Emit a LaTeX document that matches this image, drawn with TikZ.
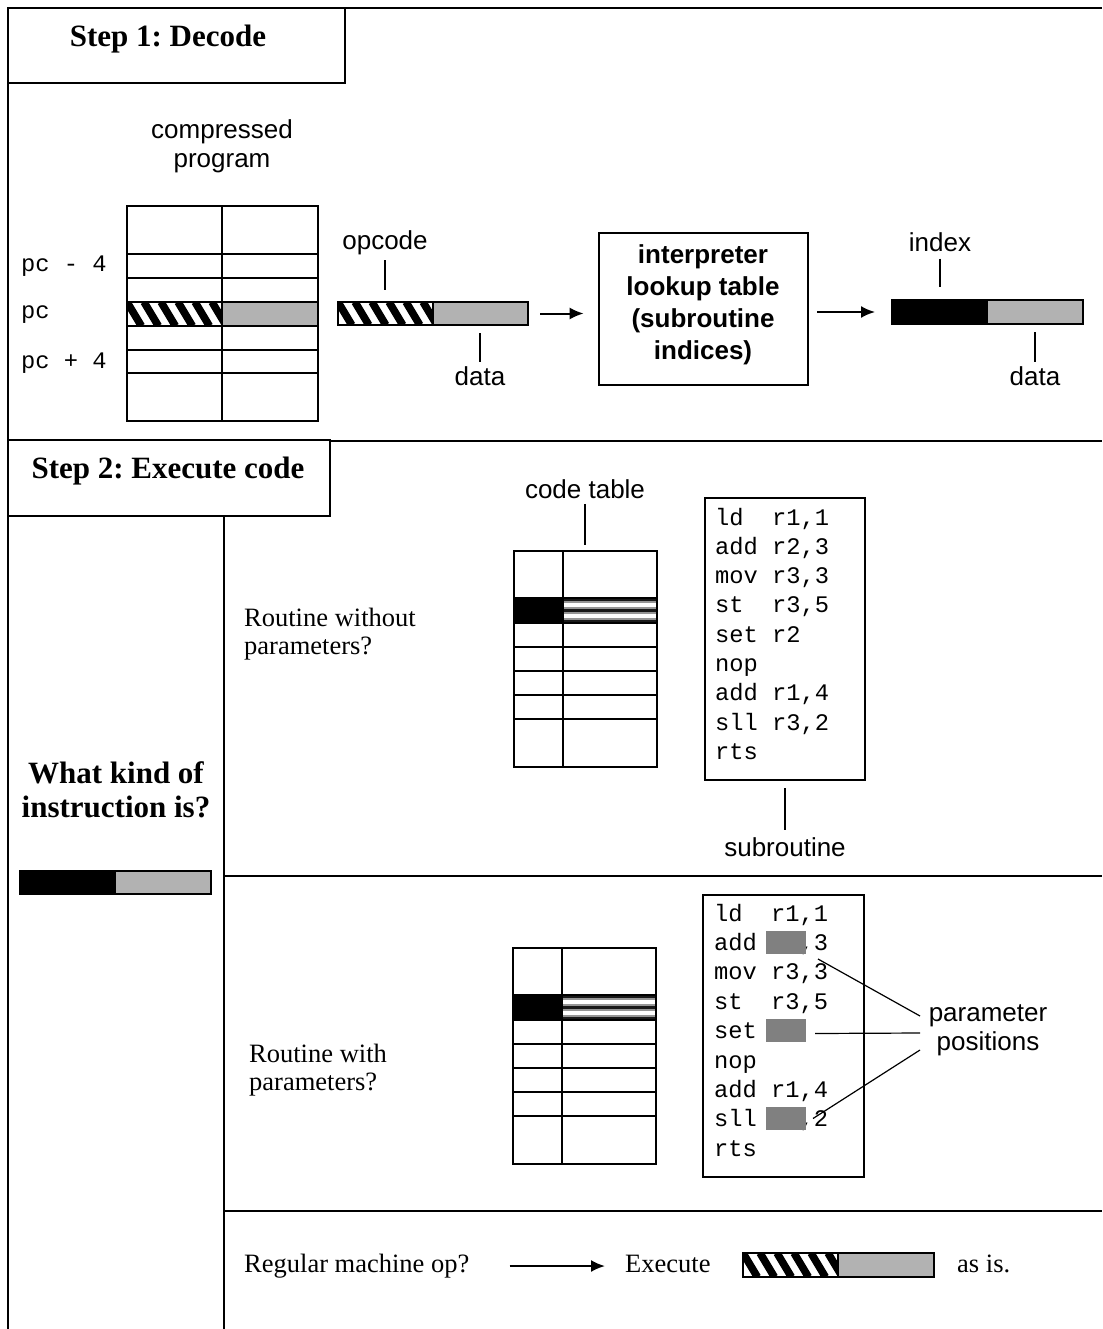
\documentclass[tikz,border=0pt]{standalone}
\usepackage{fontspec}
\setmainfont{Liberation Serif}
\setsansfont{Liberation Sans}
\setmonofont{Liberation Mono}
\usetikzlibrary{arrows.meta,calc}
\frenchspacing

\definecolor{datagray}{RGB}{178,178,178}
\definecolor{paramgray}{RGB}{128,128,128}
\definecolor{stripegray}{RGB}{150,150,150}
\definecolor{stripedark}{RGB}{25,25,25}

% diagonal black/white hatching inside a rectangle: x, y, width, height
\newcommand\hatchfill[4]{%
  \begin{scope}
    \clip (#1,#2) rectangle ++(#3,#4);
    \foreach \t in {-34,-17,...,#3}
      \draw[line width=7.6pt] ($(#1,#2)+(\t,0)$) -- ++(0.6*#4,#4);
  \end{scope}}

% horizontally striped cell of a code table row: x, y, width
\newcommand\stripecell[3]{%
  \fill[white] (#1,#2) rectangle ++(#3,25);
  \foreach \a/\b/\c in {0/2.9/stripedark, 2.9/2.1/stripegray, 9.3/1.4/stripegray,
      10.7/3.2/stripedark, 13.9/1.8/stripegray, 20.4/1.8/stripegray, 22.2/2.8/stripedark}
    \fill[\c] ($(#1,#2)+(0,\a)$) rectangle ++(#3,\b);}

% code table with a selected entry: name, x, y (top left)
\newcommand\codetable[3]{%
  \fill ($(#2,#3)+(0,47)$) rectangle ++(49,25);
  \stripecell{#2+49}{#3+47}{94}
  \foreach \r in {47,72,96,120,144,168}
    \draw[grid] ($(#2,#3)+(0,\r)$) -- ++(143,0);
  \draw[grid] ($(#2,#3)+(49,0)$) -- ++(0,216);
  \node[slot, draw, grid, minimum width=143pt, minimum height=216pt] (#1) at (#2,#3) {};}

\begin{document}
\begin{tikzpicture}[x=1pt,y=-1pt,
  frame/.style={line width=2.6pt},
  rule/.style={line width=1.4pt},
  grid/.style={line width=1.2pt},
  tick/.style={line width=1.2pt},
  arrowline/.style={line width=2pt,-{Latex[length=14pt,width=12pt]}},
  slot/.style={inner sep=0pt, outer sep=0pt, anchor=north west},
  sanslbl/.style={inner sep=0pt, font=\sffamily\fontsize{26}{29}\selectfont},
  boldsans/.style={inner sep=0pt, font=\sffamily\bfseries\fontsize{26}{32}\selectfont},
  seriflbl/.style={inner sep=0pt, anchor=west, font=\fontsize{26.5}{28}\selectfont},
  titlelbl/.style={inner sep=0pt, font=\bfseries\fontsize{31}{34}\selectfont},
  monolbl/.style={inner sep=0pt, anchor=base west, font=\ttfamily\fontsize{23.75}{29}\selectfont},
]
\useasboundingbox (0,0) rectangle (1102,1329);

% ---------- frame ----------
\draw[frame] (8,1329) -- (8,8) -- (1102,8);
\draw[frame] (8,441) -- (1102,441);
\node[slot, draw, frame, fill=white, minimum width=337pt, minimum height=75pt] (step1box) at (8,8) {};
\node[titlelbl] (step1) at (168,39) {Step 1: Decode};
\node[slot, draw, frame, fill=white, minimum width=322pt, minimum height=76pt] (step2box) at (8,440) {};
\node[titlelbl] (step2) at (168,471) {Step 2: Execute code};
\draw[rule] (224,516) -- (224,1329);
\draw[rule] (224,876) -- (1102,876);
\draw[rule] (224,1211) -- (1102,1211);

% ---------- step 1: compressed program ----------
\node[sanslbl, align=center] (cplabel) at (222,146) {compressed\\program};
\fill[datagray] (222,302) rectangle (318,326);
\hatchfill{127}{302}{95}{24}
\foreach \r in {48,72,96,120,144,167}
  \draw[grid] (127,206+\r) -- (318,206+\r);
\draw[grid] (222,206) -- (222,421);
\node[slot, draw, grid, minimum width=191pt, minimum height=215pt] (cprog) at (127,206) {};
\node[monolbl] (pcm) at (21,272) {pc - 4};
\node[monolbl] (pc0) at (21,319) {pc};
\node[monolbl] (pcp) at (21,368) {pc + 4};

% opcode / data word
\fill[datagray] (433,302) rectangle (528,325);
\hatchfill{338}{302}{95}{23}
\draw[grid] (433,302) -- (433,325);
\node[slot, draw, grid, minimum width=190pt, minimum height=23pt] (opbar) at (338,302) {};
\node[sanslbl] (oplabel) at (385,243) {opcode};
\node[sanslbl] (dlabel1) at (480,376) {data};
\draw[tick, shorten <=5pt, shorten >=12pt] (oplabel.south) -- (oplabel.south |- opbar.north);
\draw[tick, shorten <=8pt, shorten >=4pt] (dlabel1.north |- opbar.south) -- (dlabel1.north);

% lookup table
\node[draw, line width=2.6pt, minimum width=209pt, minimum height=152pt, inner sep=0pt] (lookup) at (703.5,309) {};
\node[boldsans, align=center] (lookuptext) at (703,305) {interpreter\\lookup table\\(subroutine\\indices)};
\draw[arrowline, shorten <=12pt, shorten >=14pt] (opbar.east) -- (opbar.east -| lookup.west);

% index / data word
\fill (892,300) rectangle (988,324);
\fill[datagray] (988,300) rectangle (1083,324);
\node[slot, draw, grid, minimum width=191pt, minimum height=24pt] (idxbar) at (892,300) {};
\draw[arrowline, shorten <=8pt, shorten >=17pt] (lookup.east |- idxbar.west) -- (idxbar.west);
\node[sanslbl] (idxlabel) at (940,242) {index};
\node[sanslbl] (dlabel2) at (1035,376) {data};
\draw[tick, shorten <=7pt, shorten >=13pt] (idxlabel.south) -- (idxlabel.south |- idxbar.north);
\draw[tick, shorten <=8pt, shorten >=4pt] (dlabel2.north |- idxbar.south) -- (dlabel2.north);

% ---------- step 2: left column ----------
\node[titlelbl, align=center] (kind) at (116,790) {What kind of\\instruction is?};
\fill (20,871) rectangle (116,894);
\fill[datagray] (116,871) rectangle (211,894);
\node[slot, draw, grid, minimum width=191pt, minimum height=23pt] (lbar) at (20,871) {};

% ---------- routine without parameters ----------
\node[seriflbl, align=left] (rwo) at (244,634) {Routine without\\parameters?};
\codetable{ctab1}{514}{551}
\node[sanslbl] (ctlabel) at (585,489) {code table};
\draw[tick, shorten <=5pt, shorten >=6pt] (ctlabel.south) -- (ctlabel.south |- ctab1.north);
\node[slot, draw, grid, minimum width=160pt, minimum height=282pt] (sub1) at (705,498) {};
\foreach \ln [count=\i from 0] in {{ld~~r1,1},{add r2,3},{mov r3,3},{st~~r3,5},{set r2},{nop},{add r1,4},{sll r3,2},{rts}}
  \node[monolbl] (sub1l\i) at (715,525+29.33*\i) {\ln};
\node[sanslbl] (sublabel) at (785,847) {subroutine};
\draw[tick, shorten <=8pt, shorten >=7pt] (sub1.south) -- (sublabel.north);

% ---------- routine with parameters ----------
\node[seriflbl, align=left] (rwi) at (249,1070) {Routine with\\parameters?};
\codetable{ctab2}{513}{948}
\node[slot, draw, grid, minimum width=161pt, minimum height=282pt] (sub2) at (703,895) {};
\foreach \ln [count=\i from 0] in {{ld~~r1,1},{add \phantom{r2},3},{mov r3,3},{st~~r3,5},{set},{nop},{add r1,4},{sll \phantom{r3},2},{rts}}
  \node[monolbl] (sub2l\i) at (714,921+29.4*\i) {\ln};
\node[slot, fill=paramgray, minimum width=40pt, minimum height=23pt] (parA) at (766,931) {};
\node[slot, fill=paramgray, minimum width=40pt, minimum height=23pt] (parB) at (766,1019) {};
\node[slot, fill=paramgray, minimum width=40pt, minimum height=23pt] (parC) at (766,1107) {};
\node[sanslbl, align=center] (param) at (988,1030) {parameter\\positions};
\coordinate (pp1) at (920,1016);
\coordinate (pp2) at (920,1033);
\coordinate (pp3) at (920,1050);
\draw[tick] ($(parA.south east)+(12,5)$) -- (pp1);
\draw[tick] ($(parB.east)+(9,3)$) -- (pp2);
\draw[tick] ($(parC.east)+(7,0)$) -- (pp3);

% ---------- regular machine op ----------
\node[seriflbl] (regular) at (244,1266) {Regular machine op?};
\node[seriflbl] (execute) at (625,1264) {Execute};
\draw[arrowline, shorten <=40pt, shorten >=20pt] (regular.east) -- (regular.east -| execute.west);
\fill[datagray] (838,1253) rectangle (934,1277);
\hatchfill{743}{1253}{95}{24}
\draw[grid] (838,1253) -- (838,1277);
\node[slot, draw, line width=2.2pt, minimum width=191pt, minimum height=24pt] (execbar) at (743,1253) {};
\node[seriflbl] (asis) at (957,1264) {as is.};
\end{tikzpicture}
\end{document}
